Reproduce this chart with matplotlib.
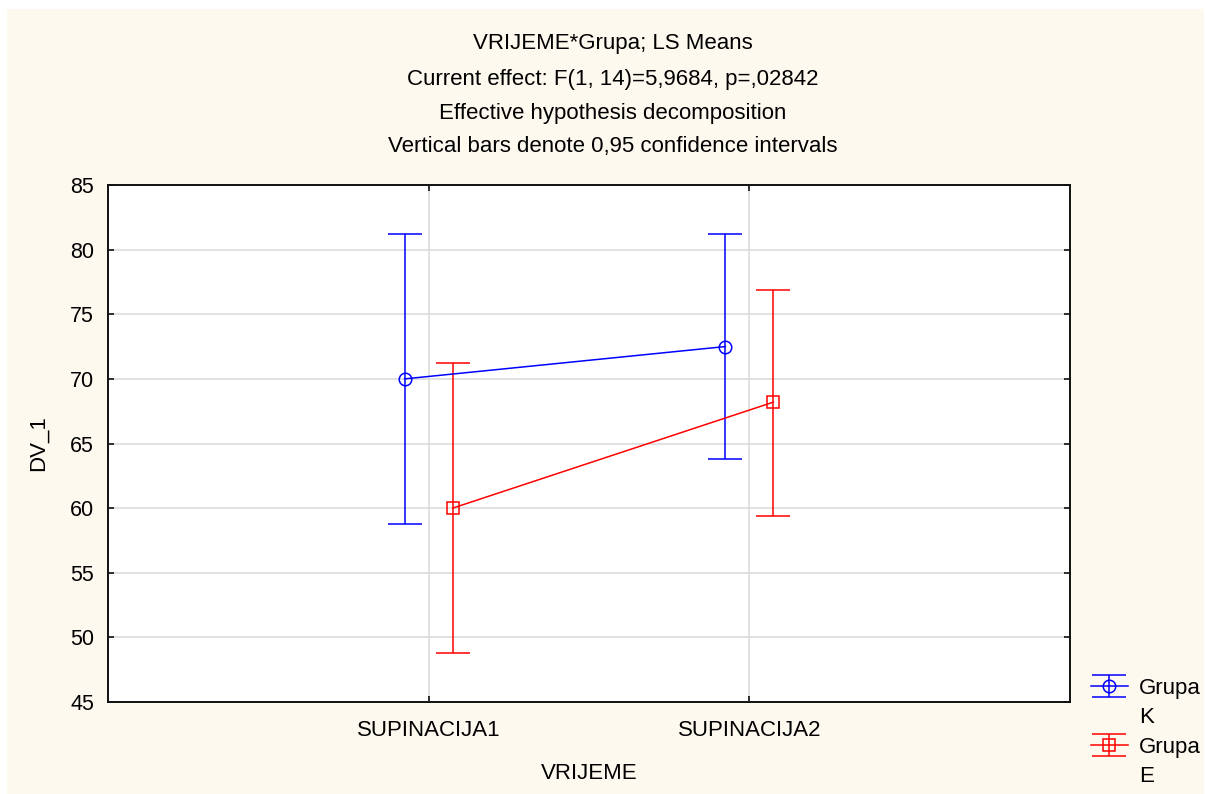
import numpy as np
import matplotlib.pyplot as plt
from matplotlib.lines import Line2D
from matplotlib.patches import Rectangle

# =========================
# DATA
# =========================

categories = ["SUPINACIJA1", "SUPINACIJA2"]

grupa_k_mean = [70.0, 72.5]
grupa_k_low = [58.8, 63.8]
grupa_k_high = [81.2, 81.2]

grupa_e_mean = [60.0, 68.2]
grupa_e_low = [48.8, 59.4]
grupa_e_high = [71.2, 76.9]

title_lines = [
    "VRIJEME*Grupa; LS Means",
    "Current effect: F(1, 14)=5,9684, p=,02842",
    "Effective hypothesis decomposition",
    "Vertical bars denote 0,95 confidence intervals",
]

# =========================
# STYLE
# =========================

plt.rcParams["font.family"] = ["Liberation Sans", "DejaVu Sans"]
plt.rcParams["font.size"] = 16

cream = "#fef9ef"

fig = plt.figure(figsize=(12.06, 7.94), dpi=100)
fig.patch.set_facecolor("white")
fig.patches.append(Rectangle((7 / 1206, 0), 1204 / 1206 - 7 / 1206, 1 - 9 / 794,
                             transform=fig.transFigure,
                             facecolor=cream, edgecolor="none", zorder=-10))

ax = fig.add_axes([108 / 1206, 1 - 702 / 794, (1070 - 108) / 1206, (702 - 185) / 794])
ax.set_facecolor("white")

x = np.arange(1, len(categories) + 1)
offset = 0.075


def draw_group(xpos, mean, low, high, color, marker, label):
    mean = np.array(mean)
    err = [mean - np.array(low), np.array(high) - mean]
    return ax.errorbar(
        xpos, mean, yerr=err,
        color=color, marker=marker, markersize=9,
        markerfacecolor="none", markeredgecolor=color, markeredgewidth=1.1,
        linewidth=1.1, elinewidth=1.1, capsize=11.9, capthick=1.1,
        label=label, zorder=3,
    )


h_k = draw_group(x - offset, grupa_k_mean, grupa_k_low, grupa_k_high,
                 "#0000ff", "o", "Grupa")
h_e = draw_group(x + offset, grupa_e_mean, grupa_e_low, grupa_e_high,
                 "#ff0000", "s", "Grupa")

# =========================
# AXES
# =========================

ax.set_xlim(0, len(categories) + 1)
ax.set_ylim(45, 85)
ax.set_yticks(np.arange(45, 86, 5))
ax.set_xticks(x)
ax.set_xticklabels(categories, fontsize=16)

ax.grid(True, color="#d9d9d9", linewidth=1.1)
ax.set_axisbelow(True)

ax.tick_params(direction="in", length=4, width=1.1, top=True, right=True,
               colors="black")
ax.tick_params(axis="y", labelsize=15.5, pad=10)
ax.tick_params(axis="x", pad=13)

for spine in ax.spines.values():
    spine.set_linewidth(1.4)
    spine.set_color("#111111")

ax.set_xlabel("VRIJEME", fontsize=16, labelpad=16)
ax.set_ylabel("DV_1", fontsize=16, labelpad=15.5)

# titles
title_baselines = [49, 85, 119, 152]
for txt, yb in zip(title_lines, title_baselines):
    fig.text(613 / 1206, 1 - yb / 794, txt, ha="center", va="baseline",
             fontsize=16)

# =========================
# LEGEND
# =========================

blank = Line2D([], [], linestyle="none", marker="none")
leg = fig.legend(
    [h_k, blank, h_e, blank],
    ["Grupa", "K", "Grupa", "E"],
    loc="upper left",
    bbox_to_anchor=(1091 / 1206, 1 - 678 / 794),
    frameon=False,
    handlelength=1.65,
    handletextpad=0.5,
    labelspacing=0.38,
    borderpad=0,
    borderaxespad=0,
    fontsize=16,
)

plt.savefig("out.png", dpi=100, facecolor=fig.get_facecolor())
